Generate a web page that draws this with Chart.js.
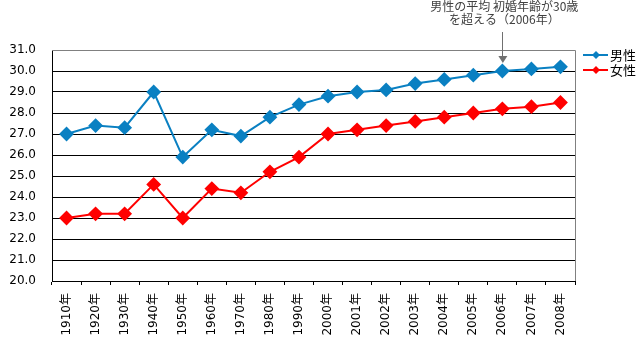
<!DOCTYPE html>
<html>
<head>
<meta charset="utf-8">
<script src="https://cdn.jsdelivr.net/npm/chart.js@4"></script>
<style>
  html, body { margin: 0; padding: 0; background: #fff; }
  #wrap { width: 640px; height: 347px; position: relative; }
</style>
</head>
<body>
<div id="wrap"><canvas id="marriage-chart"></canvas></div>
<script>
// years on the x axis
const years = ['1910年', '1920年', '1930年', '1940年', '1950年', '1960年', '1970年', '1980年', '1990年',
  '2000年', '2001年', '2002年', '2003年', '2004年', '2005年', '2006年', '2007年', '2008年']
// average age at first marriage
const maleAges = [27.0, 27.4, 27.3, 29.0, 25.9, 27.2, 26.9, 27.8, 28.4, 28.8, 29.0, 29.1, 29.4, 29.6, 29.8, 30.0, 30.1, 30.2]
const femaleAges = [23.0, 23.2, 23.2, 24.6, 23.0, 24.4, 24.2, 25.2, 25.9, 27.0, 27.2, 27.4, 27.6, 27.8, 28.0, 28.2, 28.3, 28.5]
const seriesNames = ['男性', '女性']
const noteLines = ['男性の平均 初婚年齢が30歳', 'を超える（2006年）']
const noteYear = '2006年'

const fontFamily = '"Noto Sans CJK JP", "Noto Sans", sans-serif'
const tickFamily = '"DejaVu Sans", "Noto Sans CJK JP", sans-serif'
const blue = '#0A80C2'
const red = '#FF0000'

// grey frame on top and right, legend, and the note with its arrow
const extras = {
  id: 'extras',
  afterDraw(chart) {
    let ctx = chart.ctx
    let area = chart.chartArea
    ctx.save()
    ctx.strokeStyle = '#808080'
    ctx.lineWidth = 1
    ctx.beginPath()
    ctx.moveTo(area.left, Math.round(area.top) + 0.5)
    ctx.lineTo(Math.round(area.right) + 0.5, Math.round(area.top) + 0.5)
    ctx.lineTo(Math.round(area.right) + 0.5, area.bottom)
    ctx.stroke()

    // legend
    chart.data.datasets.forEach(function(ds, i) {
      let y = 55 + i * 15
      ctx.strokeStyle = ds.borderColor
      ctx.lineWidth = 2
      ctx.beginPath()
      ctx.moveTo(583, y)
      ctx.lineTo(608, y)
      ctx.stroke()
      ctx.fillStyle = ds.backgroundColor
      ctx.beginPath()
      ctx.moveTo(596, y - 4)
      ctx.lineTo(600, y)
      ctx.lineTo(596, y + 4)
      ctx.lineTo(592, y)
      ctx.closePath()
      ctx.fill()
      ctx.fillStyle = '#000'
      ctx.font = '13px ' + fontFamily
      ctx.textBaseline = 'middle'
      ctx.textAlign = 'left'
      ctx.fillText(ds.label, 610, y)
    })

    // note above 2006
    let x = chart.scales.x.getPixelForValue(years.indexOf(noteYear))
    ctx.fillStyle = '#404040'
    ctx.font = '12px ' + fontFamily
    ctx.textAlign = 'center'
    ctx.textBaseline = 'middle'
    ctx.fillText(noteLines[0], x + 2, 6)
    ctx.fillText(noteLines[1], x + 2, 19)
    ctx.strokeStyle = '#707070'
    ctx.lineWidth = 1
    ctx.beginPath()
    ctx.moveTo(Math.round(x) + 0.5, 32)
    ctx.lineTo(Math.round(x) + 0.5, 57)
    ctx.stroke()
    ctx.fillStyle = '#707070'
    ctx.beginPath()
    ctx.moveTo(x - 4, 56)
    ctx.lineTo(x + 5, 56)
    ctx.lineTo(x + 0.5, 63)
    ctx.closePath()
    ctx.fill()
    ctx.restore()
  }
}

let ctx = document.querySelector('#marriage-chart').getContext('2d')

let marriageChart = new Chart(ctx, {
  type: 'line',
  data: {
    labels: years,
    datasets: [
      {
        label: seriesNames[0],
        data: maleAges,
        borderColor: blue,
        backgroundColor: blue,
        borderWidth: 2,
        pointStyle: 'rectRot',
        pointRadius: 6,
        pointHoverRadius: 6,
        tension: 0
      },
      {
        label: seriesNames[1],
        data: femaleAges,
        borderColor: red,
        backgroundColor: red,
        borderWidth: 2,
        pointStyle: 'rectRot',
        pointRadius: 6,
        pointHoverRadius: 6,
        tension: 0
      }
    ]
  },
  options: {
    responsive: true,
    maintainAspectRatio: false,
    animation: false,
    layout: { padding: { top: 50, right: 65, left: 0, bottom: 0 } },
    plugins: {
      legend: { display: false },
      tooltip: { enabled: false }
    },
    scales: {
      x: {
        offset: true,
        afterFit: function(scale) { scale.height = 66 },
        grid: {
          offset: true,
          drawOnChartArea: false,
          drawTicks: true,
          tickLength: 4,
          color: '#000'
        },
        border: { color: '#000', width: 1 },
        ticks: {
          minRotation: 90,
          maxRotation: 90,
          autoSkip: false,
          padding: 8,
          color: '#000',
          font: { family: tickFamily, size: 12 }
        }
      },
      y: {
        min: 20,
        max: 31,
        afterFit: function(scale) { scale.width = 52 },
        grid: {
          drawTicks: false,
          color: function(c) { return c.tick && c.tick.value === 31 ? '#808080' : '#000' }
        },
        border: { color: '#000', width: 1 },
        ticks: {
          stepSize: 1,
          padding: 16,
          color: '#000',
          font: { family: tickFamily, size: 12 },
          callback: function(v) { return v.toFixed(1) }
        }
      }
    }
  },
  plugins: [extras]
})
</script>
</body>
</html>
